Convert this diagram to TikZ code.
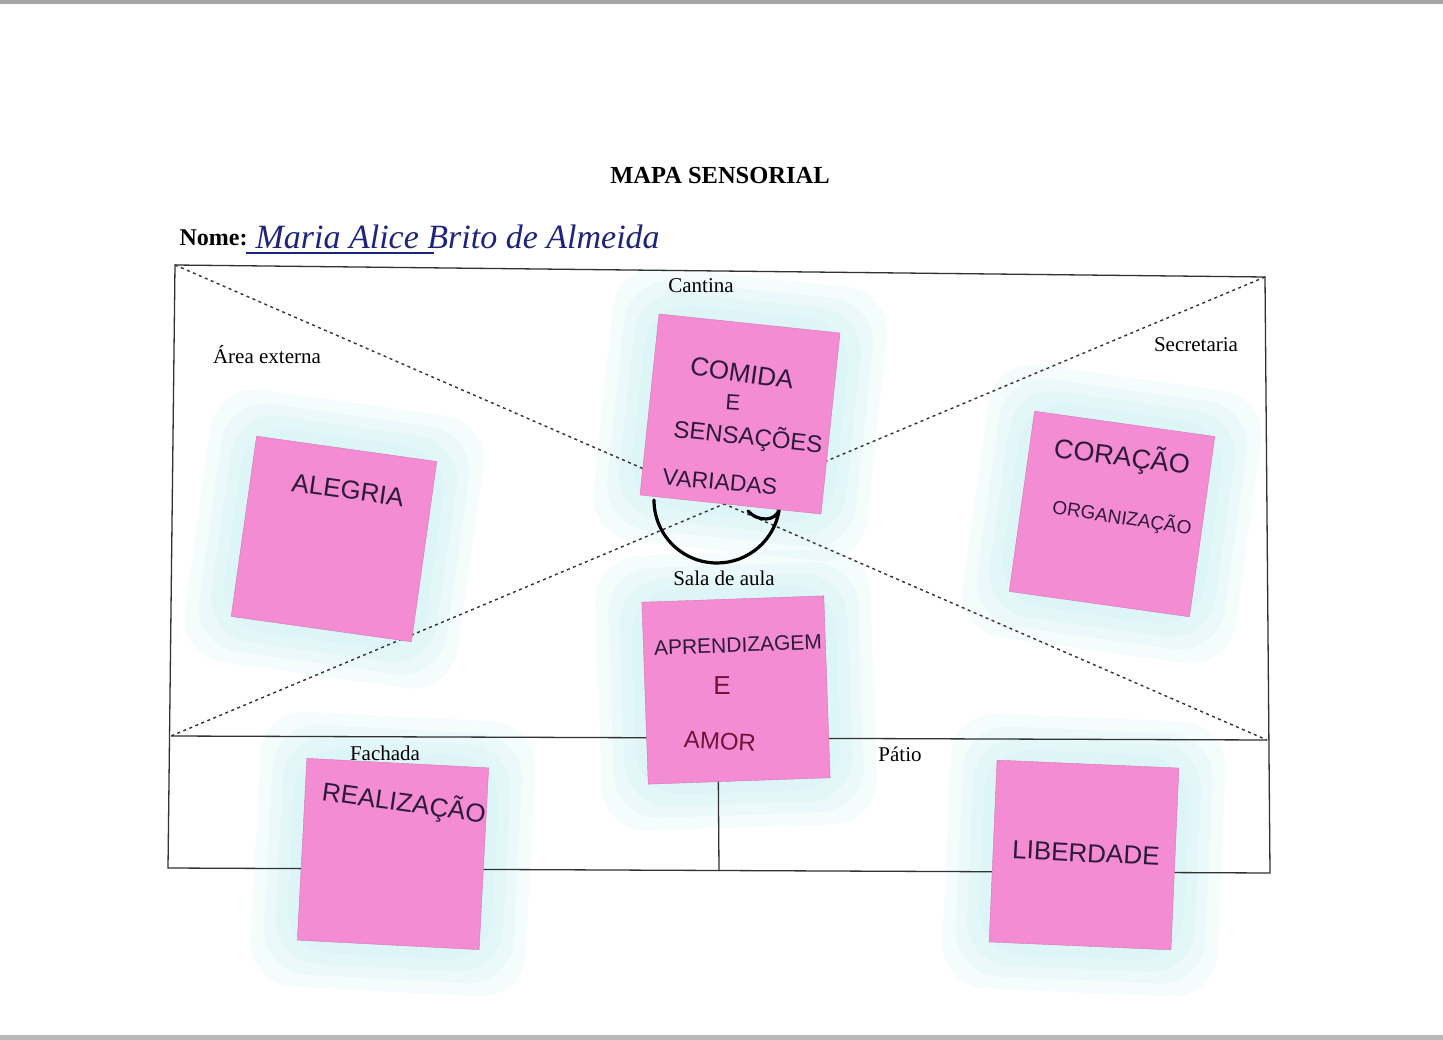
\documentclass[tikz,border=0pt]{standalone}
\usepackage{fontspec}
\setmainfont{Liberation Serif}
\newfontfamily\handfont{Liberation Sans}
\usetikzlibrary{positioning}

\definecolor{notepink}{RGB}{244,140,212}
\definecolor{glowcyan}{RGB}{200,240,244}
\definecolor{inkdark}{RGB}{45,25,60}
\definecolor{inkred}{RGB}{110,20,55}
\definecolor{inkblue}{RGB}{30,35,125}
\definecolor{rulegray}{RGB}{50,50,50}

\begin{document}
\begin{tikzpicture}[x=1pt, y=-1pt,
  rule/.style={draw=rulegray, line width=1.3pt},
  diag/.style={draw=rulegray, line width=1.4pt, dash pattern=on 3pt off 3.5pt},
  place/.style={font=\fontsize{21}{23}\selectfont, inner sep=1pt},
  halo/.style={fill=glowcyan, rounded corners=45pt, inner sep=0, opacity=.2},
  note/.style={fill=notepink, draw=notepink!85!black, line width=.4pt,
               minimum size=182pt, inner sep=0},
  hand/.style={font=\handfont\fontsize{26}{28}\selectfont, text=inkdark, inner sep=0}
]
\useasboundingbox (0,0) rectangle (1443,1040);
\fill[white] (0,0) rectangle (1443,1040);
%% edges of the photographed sheet
\fill[gray!70] (0,0) rectangle (1443,4);
\fill[gray!55] (0,1035) rectangle (1443,1040);

%% glow round the sticky notes
\foreach \x/\y/\a in {334/539/-8, 740/414/-6, 1112/514/-8, 736/690/2, 393/854/-3, 1084/855/-2.5}{
  \foreach \s in {275,250,228,205}
    \node[halo, minimum size=\s pt, rotate=\a] at (\x,\y) {};
}

%% title and name
\node[font=\bfseries\fontsize{24.5}{26}\selectfont] (title) at (720,176) {MAPA SENSORIAL};
\node[font=\bfseries\fontsize{24}{26}\selectfont, anchor=base west] (nome) at (176,246) {Nome:};
\node[font=\itshape\fontsize{34}{36}\selectfont, text=inkblue, anchor=base west] (nm) at (252,249)
  {Maria Alice Brito de Almeida};
\coordinate (ul1) at (246,253);
\coordinate (ul2) at (434,253);
\draw[inkblue, line width=1.2pt] (ul1) -- (ul2);

%% frame of the map
\coordinate (tl) at (175,265);
\coordinate (tr) at (1265,277);
\coordinate (ml) at (171,736);
\coordinate (mr) at (1267,740);
\coordinate (bl) at (168,868);
\coordinate (br) at (1270,873);
\coordinate (mt) at (718,738);
\coordinate (mb) at (719,871);
\draw[rule] (tl) -- (tr) -- (br) -- (bl) -- cycle;
\draw[rule] (ml) -- (mr);
\draw[rule] (mt) -- (mb);
\draw[diag] (tl) -- (mr);
\draw[diag] (tr) -- (ml);

%% place labels
\node[place] (cantina) at (701,286) {Cantina};
\node[place] (area) at (267,355) {Área externa};
\node[place] (secr) at (1196,345) {Secretaria};
\node[place] (sala) at (724,578) {Sala de aula};
\node[place] (fach) at (385,753) {Fachada};
\node[place] (patio) at (900,754) {Pátio};

%% drawn circle under the Cantina note
\coordinate (arcl) at (654,500);
\coordinate (hook) at (748,511);
\draw[line width=3.2pt, line cap=round] (arcl) arc[start angle=180, end angle=8, radius=63]
  .. controls (776,522) and (758,522) .. (hook);

%% sticky notes
\node[note, rotate=-8] (alegria) at (334,539) {};
\node[note, rotate=-6] (comida) at (740,414) {};
\node[note, rotate=-8] (coracao) at (1112,514) {};
\node[note, rotate=2] (aprend) at (736,690) {};
\node[note, rotate=-3] (realiz) at (393,854) {};
\node[note, rotate=-2.5] (liberd) at (1084,855) {};

%% writing on the notes
\node[hand, rotate=-8] (t1) at (348,490) {ALEGRIA};

\node[hand, rotate=-8] (t2a) at (742,373) {COMIDA};
\node[hand, font=\handfont\fontsize{22}{24}\selectfont, rotate=-4] (t2b) at (733,402) {E};
\node[hand, font=\handfont\fontsize{24}{26}\selectfont, rotate=-6] (t2c) at (748,437) {SENSAÇÕES};
\node[hand, font=\handfont\fontsize{23}{25}\selectfont, rotate=-5] (t2d) at (720,482) {VARIADAS};

\node[hand, font=\handfont\fontsize{27}{29}\selectfont, rotate=-7] (t3a) at (1122,457) {CORAÇÃO};
\node[hand, font=\handfont\fontsize{19}{21}\selectfont, rotate=-9] (t3b) at (1122,518) {ORGANIZAÇÃO};

\node[hand, font=\handfont\fontsize{21}{23}\selectfont, rotate=2] (t4a) at (738,645) {APRENDIZAGEM};
\node[hand, text=inkred, rotate=0] (t4b) at (722,686) {E};
\node[hand, text=inkred, font=\handfont\fontsize{24}{26}\selectfont, rotate=-3] (t4c) at (720,741) {AMOR};

\node[hand, rotate=-8] (t5) at (404,803) {REALIZAÇÃO};
\node[hand, rotate=-3] (t6) at (1086,853) {LIBERDADE};
\end{tikzpicture}
\end{document}
